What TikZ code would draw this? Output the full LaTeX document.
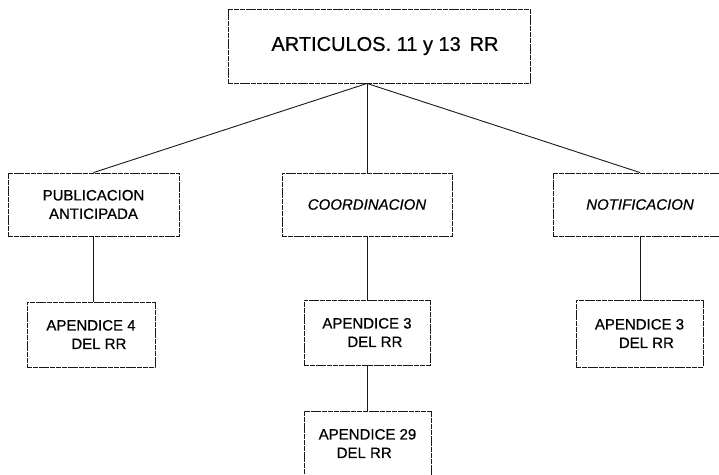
\documentclass[tikz,border=0pt]{standalone}
\usepackage{fontspec}
\setmainfont{Liberation Sans}[FakeBold=0.6]
\begin{document}
\begin{tikzpicture}[x=1pt,y=-1pt,
  boxline/.style={draw=black!90, line width=0.9pt, dash pattern=on 5pt off 0.8pt},
  box/.style={boxline, inner sep=0pt, align=left, font=\fontsize{15}{18.5}\selectfont},
  topbox/.style={boxline, inner sep=0pt, font=\fontsize{20}{24}\selectfont},
  conn/.style={draw=black!90, line width=0.9pt}]
\clip (0,0) rectangle (719,474);
\fill[white] (0,0) rectangle (719,474);
% top
\node[topbox, minimum width=302pt, minimum height=74pt] (top) at (379,46) {\hspace*{12pt}ARTICULOS. 11 y 13 \,RR};
% level 2
\node[box, align=center, minimum width=171pt, minimum height=63pt] (pub) at (93.5,204.5) {PUBLICACION\\ANTICIPADA};
\node[box, minimum width=170pt, minimum height=63pt] (coord) at (367,204.5) {\itshape COORDINACION};
\node[box, minimum width=174pt, minimum height=63pt] (notif) at (640,204.5) {\itshape NOTIFICACION};
% level 3
\node[box, minimum width=128pt, minimum height=65pt] (apa) at (91,334.5) {APENDICE 4\\\hspace*{25pt}DEL RR};
\node[box, minimum width=126pt, minimum height=65pt] (apb) at (367,332.5) {APENDICE 3\\\hspace*{25pt}DEL RR};
\node[box, minimum width=127pt, minimum height=67pt] (apc) at (639.5,333.5) {APENDICE 3\\\hspace*{24pt}DEL RR};
% level 4
\node[box, minimum width=127pt, minimum height=65pt] (apd) at (367.5,443.5) {APENDICE 29\\\hspace*{18pt}DEL RR};
% connectors
\coordinate (hub) at (top.south -| coord.north);
\draw[conn] (hub) -- (pub.north);
\draw[conn] (hub) -- (coord.north);
\draw[conn] (hub) -- (notif.north);
\draw[conn] (pub.south) -- (pub.south |- apa.north);
\draw[conn] (coord.south) -- (apb.north);
\draw[conn] (notif.south) -- (notif.south |- apc.north);
\draw[conn] (apb.south) -- (apb.south |- apd.north);
\end{tikzpicture}
\end{document}
